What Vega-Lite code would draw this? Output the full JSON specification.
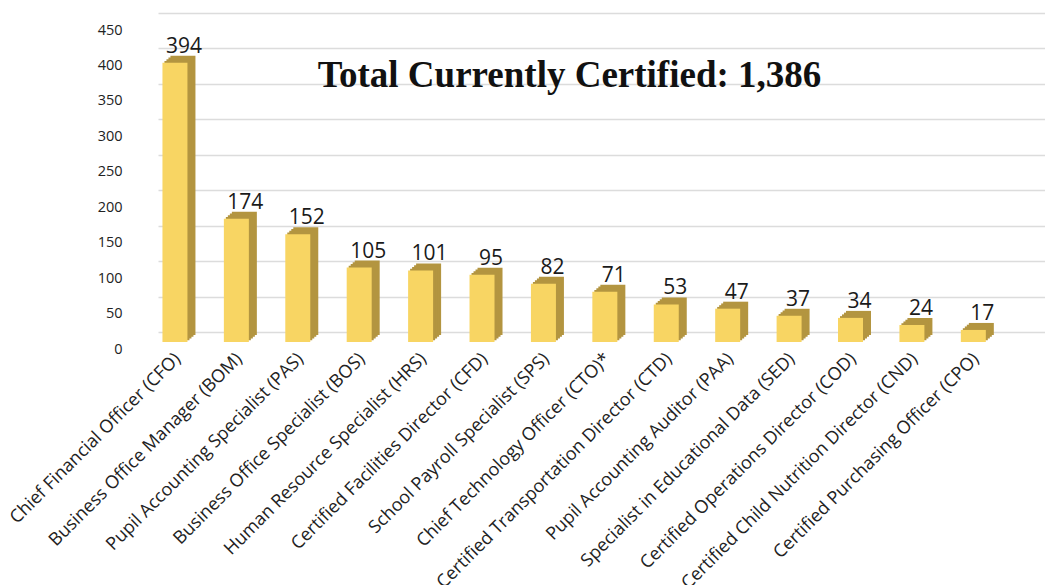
{
  "$schema": "https://vega.github.io/schema/vega-lite/v6.json",
  "autosize": "none",
  "width": 887,
  "height": 319,
  "padding": {"left": 158, "top": 13, "right": 0, "bottom": 253},
  "background": "white",
  "title": {
    "text": "Total Currently Certified: 1,386",
    "font": "Liberation Serif",
    "fontWeight": "bold",
    "fontSize": 37,
    "color": "#111111",
    "anchor": "middle",
    "baseline": "alphabetic",
    "offset": 0,
    "dx": -32,
    "dy": 111
  },
  "data": {
    "values": [
      {"role": "Chief Financial Officer (CFO)", "count": 394},
      {"role": "Business Office Manager (BOM)", "count": 174},
      {"role": "Pupil Accounting Specialist (PAS)", "count": 152},
      {"role": "Business Office Specialist (BOS)", "count": 105},
      {"role": "Human Resource Specialist (HRS)", "count": 101},
      {"role": "Certified Facilities Director (CFD)", "count": 95},
      {"role": "School Payroll Specialist (SPS)", "count": 82},
      {"role": "Chief Technology Officer (CTO)*", "count": 71},
      {"role": "Certified Transportation Director (CTD)", "count": 53},
      {"role": "Pupil Accounting Auditor (PAA)", "count": 47},
      {"role": "Specialist in Educational Data (SED)", "count": 37},
      {"role": "Certified Operations Director (COD)", "count": 34},
      {"role": "Certified Child Nutrition Director (CND)", "count": 24},
      {"role": "Certified Purchasing Officer (CPO)", "count": 17}
    ]
  },
  "encoding": {
    "x": {
      "field": "role",
      "type": "nominal",
      "sort": null,
      "scale": {"paddingInner": 0.593, "paddingOuter": 0.518, "align": 0.07},
      "axis": {
        "title": null,
        "domain": false,
        "ticks": false,
        "labelAngle": -45,
        "labelAlign": "right",
        "labelBaseline": "middle",
        "labelPadding": 24,
        "labelOffset": 3,
        "labelFont": "Open Sans",
        "labelFontSize": 18,
        "labelColor": "#222222",
        "labelLimit": 400
      }
    },
    "y": {
      "field": "count",
      "type": "quantitative",
      "scale": {"domain": [0, 450], "nice": false},
      "axis": {
        "title": null,
        "domain": false,
        "ticks": false,
        "values": [0, 50, 100, 150, 200, 250, 300, 350, 400, 450],
        "labelOffset": 17,
        "labelPadding": 36,
        "labelFont": "Open Sans",
        "labelFontSize": 14.5,
        "labelColor": "#222222",
        "grid": true,
        "gridColor": "#dcdcdc",
        "gridWidth": 1.5
      }
    }
  },
  "layer": [
    {"mark": {"type": "bar", "color": "#b39540", "xOffset": 8, "yOffset": 3, "y2Offset": 3}},
    {"mark": {"type": "bar", "color": "#b39540", "xOffset": 6, "yOffset": 4.75, "y2Offset": 4.75}},
    {"mark": {"type": "bar", "color": "#b39540", "xOffset": 4, "yOffset": 6.5, "y2Offset": 6.5}},
    {"mark": {"type": "bar", "color": "#b39540", "xOffset": 2, "yOffset": 8.25, "y2Offset": 8.25}},
    {"mark": {"type": "bar", "color": "#f8d563", "yOffset": 10, "y2Offset": 10}},
    {
      "mark": {"type": "text", "font": "Open Sans", "fontSize": 21, "color": "#1a1a1a", "baseline": "alphabetic", "dx": 9, "dy": 0},
      "encoding": {"text": {"field": "count", "type": "quantitative"}}
    }
  ],
  "config": {"view": {"stroke": null}}
}
